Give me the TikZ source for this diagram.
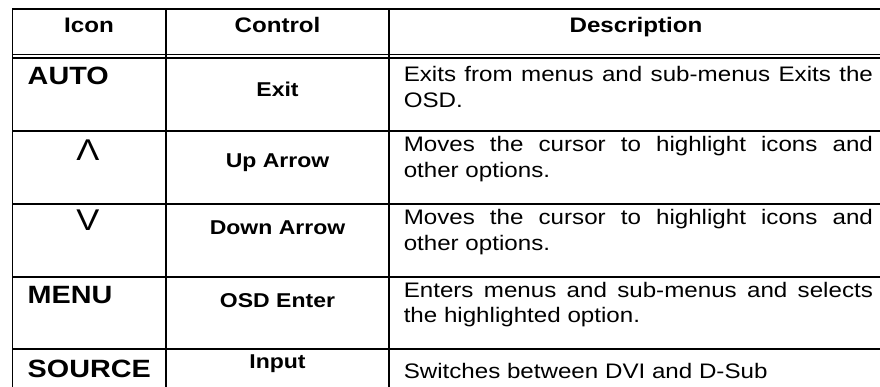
\documentclass[tikz,border=0pt]{standalone}
\usepackage{fontspec}
\setmainfont{Liberation Sans}
\usepackage{tikz}

\newcommand\bodysize{\fontsize{21}{25.5}\selectfont}
\newcommand\iconsize{\fontsize{25}{30}\selectfont}
\newcommand\ctrlsize{\fontsize{20}{24}\selectfont}
\newcommand\arrowsize{\fontsize{30}{36}\selectfont}
\hyphenpenalty=10000
\tolerance=10000

\begin{document}
\begin{tikzpicture}[x=1pt,y=-1pt,line width=1.3pt,
    every node/.style={inner sep=0pt,xscale=1.15},
    hdr/.style={font=\bodysize\bfseries,anchor=base},
    iconlbl/.style={font=\iconsize\bfseries,anchor=base west},
    arrowlbl/.style={font=\arrowsize,anchor=base},
    ctrl/.style={font=\ctrlsize\bfseries,anchor=base},
    desc/.style={font=\bodysize,anchor=base west,text width=408pt,align=justify}]
	\useasboundingbox (0,0) rectangle (880,387);
	\draw (880,9) -- (12.5,9) -- (12.5,387);
	\draw (166,9) -- (166,387);
	\draw (389,9) -- (389,387);
	\draw (12.5,54.5) -- (880,54.5);
	\draw (12.5,58) -- (880,58);
	\foreach \y in {131,204,277,349}
		\draw (12.5,\y) -- (880,\y);
	\node[hdr] (icon) at (89,33) {Icon};
	\node[hdr] (control) at (277.5,33) {Control};
	\node[hdr] (description) at (636,33) {Description};
	\node[iconlbl] (auto) at (27,85) {AUTO};
	\node[arrowlbl] (up) at (88,161) {Λ};
	\node[arrowlbl] (down) at (88,231) {V};
	\node[iconlbl] (menu) at (27,303) {MENU};
	\node[iconlbl] (source) at (27,377) {SOURCE};
	\node[ctrl] (exit) at (277.5,97) {Exit};
	\node[ctrl] (uparrow) at (277.5,168) {Up Arrow};
	\node[ctrl] (downarrow) at (277.5,235) {Down Arrow};
	\node[ctrl] (osdenter) at (277.5,307) {OSD Enter};
	\node[ctrl] (input) at (277.5,368) {Input};
	\node[desc] (exitdesc) at (403,82) {Exits from menus and sub-menus Exits the\linebreak OSD.};
	\node[desc] (updesc) at (403,152) {Moves the cursor to highlight icons and\linebreak other options.};
	\node[desc] (downdesc) at (403,225) {Moves the cursor to highlight icons and\linebreak other options.};
	\node[desc] (enterdesc) at (403,297) {Enters menus and sub-menus and selects\linebreak the highlighted option.};
	\node[desc] (inputdesc) at (403,378) {Switches between DVI and D-Sub};
\end{tikzpicture}
\end{document}
